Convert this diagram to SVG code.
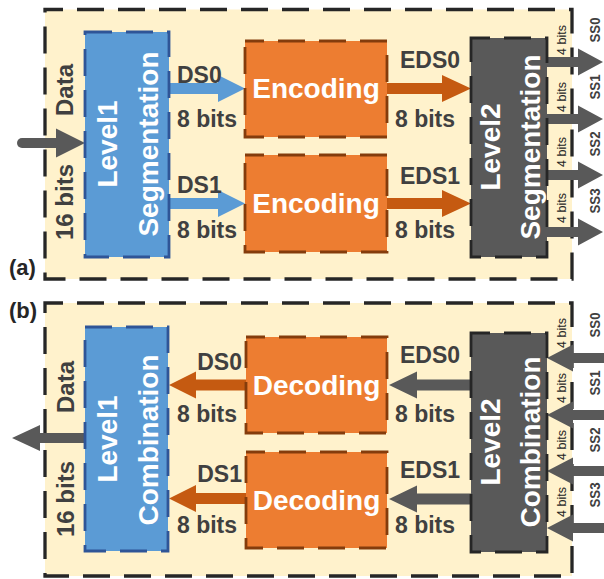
<svg xmlns="http://www.w3.org/2000/svg" width="604" height="579" viewBox="0 0 604 579">
<style>
text{font-family:"Liberation Sans",Arial,sans-serif}
.panel{fill:#FFF2CC;stroke:#262626;stroke-width:3.3;stroke-dasharray:27 14;stroke-dashoffset:9}
.l1{fill:#5B9BD5;stroke:#2F5597;stroke-width:2.8;stroke-dasharray:27 14;stroke-dashoffset:0}
.enc{fill:#ED7D31;stroke:#843C0C;stroke-width:2.8;stroke-dasharray:27 14;stroke-dashoffset:8}
.l2{fill:#595959;stroke:#262626;stroke-width:2.8;stroke-dasharray:27 14;stroke-dashoffset:8}
.big{font-size:28px;font-weight:bold;fill:#FFFFFF;text-anchor:middle}
.lab{font-size:23px;font-weight:bold;fill:#404040}
.side{font-size:24px;font-weight:bold;fill:#404040;text-anchor:middle}
.small{font-size:12.5px;fill:#262626;text-anchor:middle}
.ss{font-size:14px;font-weight:bold;fill:#404040;text-anchor:middle}
.pl{font-size:22px;font-weight:bold;fill:#262626}
.ab{fill:#5B9BD5}
.ao{fill:#C55A11}
.ag{fill:#595959}
</style>
<g id="panel-a">
<rect class="panel" x="45" y="9.5" width="527" height="269.5"/>
<text class="pl" x="9" y="275">(a)</text>
</g>
<g id="panel-b">
<rect class="panel" x="45" y="303" width="527" height="273"/>
<text class="pl" x="9" y="318">(b)</text>
</g>
<g id="connectors">
<path d="M22,143 H60" stroke="#595959" stroke-width="10" stroke-linecap="round" fill="none"/>
<polygon class="ag" points="56,128.5 85,143 56,157.5"/>
<polygon class="ab" points="169,83 218,83 218,75 245,88.5 218,102 218,94 169,94"/>
<polygon class="ab" points="169,198 218,198 218,190 245,203.5 218,217 218,209 169,209"/>
<polygon class="ao" points="387,83 442,83 442,75 471,88.5 442,102 442,94 387,94"/>
<polygon class="ao" points="387,198 442,198 442,190 471,203.5 442,217 442,209 387,209"/>
<polygon class="ag" points="547,57 578,57 578,48.5 603,62 578,75.5 578,67 547,67"/>
<polygon class="ag" points="547,114 578,114 578,105.5 603,119 578,132.5 578,124 547,124"/>
<polygon class="ag" points="547,170 578,170 578,161.5 603,175 578,188.5 578,180 547,180"/>
<polygon class="ag" points="547,227 578,227 578,218.5 603,232 578,245.5 578,237 547,237"/>
<polygon class="ag" points="85,433 40,433 40,425 12,438 40,451 40,443 85,443"/>
<polygon class="ao" points="246,379.5 196,379.5 196,371.5 169,385 196,398.5 196,390.5 246,390.5"/>
<polygon class="ao" points="246,493 196,493 196,485 169,498.5 196,512 196,504 246,504"/>
<polygon class="ag" points="471,379.5 417,379.5 417,371.5 389,385 417,398.5 417,390.5 471,390.5"/>
<polygon class="ag" points="471,493.5 417,493.5 417,485.5 389,499 417,512.5 417,504.5 471,504.5"/>
<polygon class="ag" points="604,353 573,353 573,344.5 547,358 573,371.5 573,363 604,363"/>
<polygon class="ag" points="604,410 573,410 573,401.5 547,415 573,428.5 573,420 604,420"/>
<polygon class="ag" points="604,466 573,466 573,457.5 547,471 573,484.5 573,476 604,476"/>
<polygon class="ag" points="604,523 573,523 573,514.5 547,528 573,541.5 573,533 604,533"/>
<text class="side" transform="translate(73,90) rotate(-90)">Data</text>
<text class="side" transform="translate(73,202) rotate(-90)">16 bits</text>
<text class="side" transform="translate(74,387) rotate(-90)">Data</text>
<text class="side" transform="translate(74,499) rotate(-90)">16 bits</text>
<text class="lab" x="177" y="83">DS0</text>
<text class="lab" x="177" y="127">8 bits</text>
<text class="lab" x="177" y="193">DS1</text>
<text class="lab" x="177" y="238">8 bits</text>
<text class="lab" x="430" y="68" text-anchor="middle">EDS0</text>
<text class="lab" x="425" y="127" text-anchor="middle">8 bits</text>
<text class="lab" x="430" y="184" text-anchor="middle">EDS1</text>
<text class="lab" x="425" y="238" text-anchor="middle">8 bits</text>
<text class="lab" x="242" y="370" text-anchor="end">DS0</text>
<text class="lab" x="177" y="422">8 bits</text>
<text class="lab" x="242" y="482" text-anchor="end">DS1</text>
<text class="lab" x="177" y="533">8 bits</text>
<text class="lab" x="430" y="363" text-anchor="middle">EDS0</text>
<text class="lab" x="425" y="422" text-anchor="middle">8 bits</text>
<text class="lab" x="430" y="478" text-anchor="middle">EDS1</text>
<text class="lab" x="425" y="533" text-anchor="middle">8 bits</text>
<text class="small" transform="translate(566,40) rotate(-90)">4 bits</text>
<text class="small" transform="translate(566,97) rotate(-90)">4 bits</text>
<text class="small" transform="translate(566,152) rotate(-90)">4 bits</text>
<text class="small" transform="translate(566,208) rotate(-90)">4 bits</text>
<text class="small" transform="translate(566,333) rotate(-90)">4 bits</text>
<text class="small" transform="translate(566,388) rotate(-90)">4 bits</text>
<text class="small" transform="translate(566,445) rotate(-90)">4 bits</text>
<text class="small" transform="translate(566,502) rotate(-90)">4 bits</text>
<text class="ss" transform="translate(600,30) rotate(-90)" textLength="25" lengthAdjust="spacingAndGlyphs">SS0</text>
<text class="ss" transform="translate(600,87) rotate(-90)" textLength="25" lengthAdjust="spacingAndGlyphs">SS1</text>
<text class="ss" transform="translate(600,144) rotate(-90)" textLength="25" lengthAdjust="spacingAndGlyphs">SS2</text>
<text class="ss" transform="translate(600,201) rotate(-90)" textLength="25" lengthAdjust="spacingAndGlyphs">SS3</text>
<text class="ss" transform="translate(600,325) rotate(-90)" textLength="25" lengthAdjust="spacingAndGlyphs">SS0</text>
<text class="ss" transform="translate(600,383) rotate(-90)" textLength="25" lengthAdjust="spacingAndGlyphs">SS1</text>
<text class="ss" transform="translate(600,440) rotate(-90)" textLength="25" lengthAdjust="spacingAndGlyphs">SS2</text>
<text class="ss" transform="translate(600,495) rotate(-90)" textLength="25" lengthAdjust="spacingAndGlyphs">SS3</text>
</g>
<g id="level1-seg">
<rect class="l1" x="85" y="32" width="84" height="225"/>
<text class="big" transform="translate(117,144) rotate(-90)">Level1</text>
<text class="big" transform="translate(158,144) rotate(-90)">Segmentation</text>
</g>
<g id="encoding0">
<rect class="enc" x="245" y="41" width="142" height="96"/>
<text class="big" x="316" y="98">Encoding</text>
</g>
<g id="encoding1">
<rect class="enc" x="245" y="155" width="142" height="97"/>
<text class="big" x="316" y="213">Encoding</text>
</g>
<g id="level2-seg">
<rect class="l2" x="471" y="38" width="76" height="219"/>
<text class="big" transform="translate(500,147) rotate(-90)">Level2</text>
<text class="big" transform="translate(540,147) rotate(-90)">Segmentation</text>
</g>
<g id="level1-comb">
<rect class="l1" x="85" y="327" width="83" height="224"/>
<text class="big" transform="translate(117,439) rotate(-90)">Level1</text>
<text class="big" transform="translate(158,440) rotate(-90)">Combination</text>
</g>
<g id="decoding0">
<rect class="enc" x="246" y="337" width="141" height="96"/>
<text class="big" x="316.5" y="395">Decoding</text>
</g>
<g id="decoding1">
<rect class="enc" x="246" y="452" width="141" height="96"/>
<text class="big" x="316.5" y="510">Decoding</text>
</g>
<g id="level2-comb">
<rect class="l2" x="471" y="333" width="76" height="219"/>
<text class="big" transform="translate(500,442) rotate(-90)">Level2</text>
<text class="big" transform="translate(540,442) rotate(-90)">Combination</text>
</g>
</svg>
